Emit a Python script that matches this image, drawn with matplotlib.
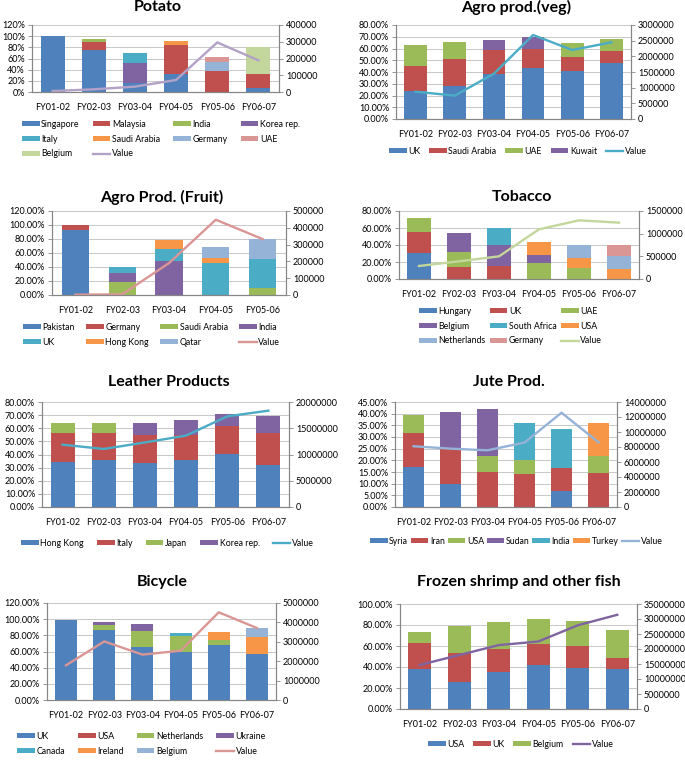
import numpy as np
import matplotlib.pyplot as plt
from matplotlib.patches import Patch
from matplotlib.ticker import FuncFormatter, MultipleLocator

plt.rcParams['font.family'] = ['Lato', 'DejaVu Sans']

W, H = 685, 760

years = ["FY01-02", "FY02-03", "FY03-04", "FY04-05", "FY05-06", "FY06-07"]
years_fruit = years[:5]

# share of each destination (%), one list per country, one value per year
potato_names = ["Singapore", "Malaysia", "India", "Korea rep.", "Italy",
                "Saudi Arabia", "Germany", "UAE", "Belgium"]
potato_shares = [[100, 76, 16, 33, 0, 8],
                 [0, 14, 0, 51, 38, 25],
                 [0, 5, 0, 0, 0, 0],
                 [0, 0, 36, 0, 0, 0],
                 [0, 0, 17, 0, 0, 0],
                 [0, 0, 0, 7, 0, 0],
                 [0, 0, 0, 0, 15, 0],
                 [0, 0, 0, 0, 9, 0],
                 [0, 0, 0, 0, 0, 48]]
potato_value = [6000, 16000, 32000, 72000, 296000, 189000]

veg_names = ["UK", "Saudi Arabia", "UAE", "Kuwait"]
veg_shares = [[24, 28.5, 38.3, 43.4, 40.9, 47.4],
              [21.1, 22.4, 20.4, 16.2, 12.1, 10.2],
              [17.9, 14.3, 0, 0, 11.7, 10.5],
              [0, 0, 8.8, 9.9, 0, 0]]
veg_value = [872000, 745000, 1447000, 2681000, 2202000, 2447000]

fruit_names = ["Pakistan", "Germany", "Saudi Arabia", "India", "UK",
               "Hong Kong", "Qatar"]
fruit_shares = [[93, 0, 0, 0, 0],
                [7, 0, 0, 0, 0],
                [0, 18, 0, 0, 9.5],
                [0, 14, 48.6, 0, 0],
                [0, 8.6, 16.6, 45.7, 41.9],
                [0, 0, 12.8, 7.6, 0],
                [0, 0, 0, 15.3, 28.1]]
fruit_value = [2000, 4000, 190000, 448000, 333000]

tobacco_names = ["Hungary", "UK", "UAE", "Belgium", "South Africa", "USA",
                 "Netherlands", "Germany"]
tobacco_shares = [[30.2, 0, 0, 0, 0, 0],
                  [24.7, 13.7, 15.3, 0, 0, 0],
                  [16.9, 18.1, 0, 19.2, 12.9, 0],
                  [0, 21.9, 24.7, 9.4, 0, 0],
                  [0, 0, 20.4, 0, 0, 0],
                  [0, 0, 0, 14.5, 12.2, 11.4],
                  [0, 0, 0, 0, 14.5, 16.1],
                  [0, 0, 0, 0, 0, 12.1]]
tobacco_value = [287000, 390000, 500000, 1096000, 1294000, 1243000]

leather_names = ["Hong Kong", "Italy", "Japan", "Korea rep."]
leather_shares = [[34, 36.1, 33.8, 35.6, 40.1, 32],
                  [22.1, 20, 20.8, 18.9, 21.4, 24.1],
                  [7.9, 8.2, 0, 0, 0, 0],
                  [0, 0, 9.1, 12, 9.6, 13.2]]
leather_value = [11870000, 11050000, 12300000, 13600000, 17270000, 18350000]

jute_names = ["Syria", "Iran", "USA", "Sudan", "India", "Turkey"]
jute_shares = [[17, 9.9, 0, 0, 7, 0],
               [14.6, 15.5, 15.1, 14.1, 9.8, 14.5],
               [7.9, 0, 6.8, 6.2, 0, 7.4],
               [0, 15.3, 20.1, 0, 0, 0],
               [0, 0, 0, 15.6, 16.7, 0],
               [0, 0, 0, 0, 0, 14]]
jute_value = [8100000, 7780000, 7560000, 8590000, 12570000, 8630000]

bicycle_names = ["UK", "USA", "Netherlands", "Ukraine", "Canada", "Ireland",
                 "Belgium"]
bicycle_shares = [[98.6, 86.2, 65.6, 59, 68.5, 56.9],
                  [0.8, 0, 0, 0, 0, 0],
                  [0, 7, 20.2, 19.8, 5.3, 0],
                  [0, 3.3, 7.8, 0, 0, 0],
                  [0, 0, 0, 4.5, 0, 0],
                  [0, 0, 0, 0, 10.7, 20.6],
                  [0, 0, 0, 0, 0, 11.2]]
bicycle_value = [1790000, 3020000, 2340000, 2540000, 4520000, 3710000]

fish_names = ["USA", "UK", "Belgium"]
fish_shares = [[38.5, 25.9, 35.3, 41.6, 39.4, 38.5],
               [24.6, 27.7, 22.1, 20.5, 20.2, 10.1],
               [10.4, 25.3, 25.6, 23.7, 24, 27.1]]
fish_value = [14680000, 17990000, 21300000, 22500000, 27900000, 31400000]

palette = ["#4F81BD", "#C0504D", "#9BBB59", "#8064A2", "#4BACC6", "#F79646",
           "#95B3D7", "#D99694", "#C3D69B", "#B3A2C7"]
axis_grey = "#868686"

fig = plt.figure(figsize=(W / 100, H / 100), dpi=100)


def row_major(handles, labels, ncol):
    # excel fills legends row by row, matplotlib column by column
    n = len(handles)
    rows = -(-n // ncol)
    blank = Patch(facecolor="none", edgecolor="none")
    handles = handles + [blank] * (rows * ncol - n)
    labels = labels + [""] * (rows * ncol - n)
    order = [r * ncol + c for c in range(ncol) for r in range(rows)]
    return [handles[i] for i in order], [labels[i] for i in order]


def panel(box, title, title_xy, cats, names, shares, value,
          ymax, ystep, ydec, vmax, vstep, leg_xy, ncol, colsp):
    l, t, r, b = box
    ax = fig.add_axes([l / W, 1 - b / H, (r - l) / W, (b - t) / H])
    x = np.arange(len(cats))
    bottom = np.zeros(len(cats))
    for i, (name, s) in enumerate(zip(names, shares)):
        s = np.array(s, float)
        ax.bar(x, s, 0.58, bottom=bottom, color=palette[i], label=name, zorder=2)
        bottom += s
    ax.set_ylim(0, ymax)
    ax.set_xlim(-0.5, len(cats) - 0.5)
    ax.yaxis.set_major_locator(MultipleLocator(ystep))
    ax.yaxis.set_major_formatter(FuncFormatter(lambda v, p: f"{v:.{ydec}f}%"))
    ax.set_xticks(x)
    ax.set_xticklabels(cats)
    ax.grid(axis="y", color="#BFBFBF", lw=0.6, zorder=0)
    ax.set_axisbelow(True)

    ax2 = ax.twinx()
    ax2.plot(x, value, color=palette[len(names)], lw=1.7, label="Value")
    ax2.set_ylim(0, vmax)
    ax2.yaxis.set_major_locator(MultipleLocator(vstep))
    ax2.yaxis.set_major_formatter(FuncFormatter(lambda v, p: f"{v:.0f}"))

    for a in (ax, ax2):
        a.spines["top"].set_visible(False)
        for s in ("left", "right", "bottom"):
            a.spines[s].set_color(axis_grey)
            a.spines[s].set_linewidth(0.8)
        a.tick_params(axis="y", labelsize=6.5, length=3, width=0.6,
                      color=axis_grey, pad=2)
    ax.tick_params(axis="x", labelsize=6.5, length=0, pad=8)

    fig.text(title_xy[0] / W, 1 - title_xy[1] / H, title, ha="center",
             va="center", fontsize=11.5, fontweight="bold")

    h1, l1 = ax.get_legend_handles_labels()
    h2, l2 = ax2.get_legend_handles_labels()
    hs, ls = row_major(h1 + h2, l1 + l2, ncol)
    fig.legend(hs, ls, loc="upper left",
               bbox_to_anchor=(leg_xy[0] / W, 1 - leg_xy[1] / H),
               ncol=ncol, frameon=False, fontsize=6.3, handlelength=2.0,
               handleheight=0.5, handletextpad=0.2, columnspacing=colsp,
               labelspacing=0.65, borderpad=0, borderaxespad=0)


panel((32, 25, 279, 92), "Potato", (158, 7), years, potato_names,
      potato_shares, potato_value, 120, 20, 0, 400000, 100000,
      (22, 120), 4, 1.5)
panel((396, 25, 631, 119), "Agro prod.(veg)", (516, 7), years, veg_names,
      veg_shares, veg_value, 80, 10, 2, 3000000, 500000,
      (389, 147), 5, 1.0)
panel((52, 211, 286, 295), "Agro Prod. (Fruit)", (162, 197), years_fruit,
      fruit_names, fruit_shares, fruit_value, 120, 20, 2, 500000, 100000,
      (23, 323), 4, 1.3)
panel((399, 211, 639, 279), "Tobacco", (522, 197), years, tobacco_names,
      tobacco_shares, tobacco_value, 80, 20, 2, 1500000, 500000,
      (419, 307), 3, 0.5)
panel((42, 402, 289, 507), "Leather Products", (169, 382), years,
      leather_names, leather_shares, leather_value, 80, 10, 2, 20000000,
      5000000, (21, 539), 5, 1.5)
panel((395, 402, 617, 507), "Jute Prod.", (509, 382), years, jute_names,
      jute_shares, jute_value, 45, 5, 2, 14000000, 2000000,
      (370, 537), 7, 0.3)
panel((47, 603, 276, 700), "Bicycle", (162, 582), years, bicycle_names,
      bicycle_shares, bicycle_value, 120, 20, 2, 5000000, 1000000,
      (17, 732), 4, 1.5)
panel((400, 604, 637, 709), "Frozen shrimp and other fish", (519, 582), years,
      fish_names, fish_shares, fish_value, 100, 20, 2, 35000000, 5000000,
      (428, 740), 4, 1.0)

fig.savefig("out.png", dpi=100)
